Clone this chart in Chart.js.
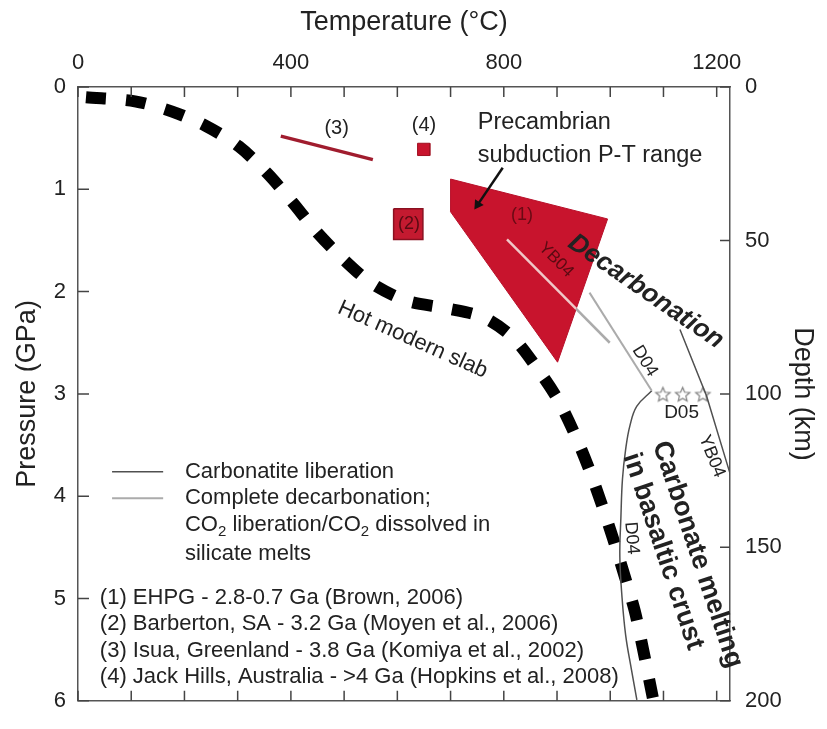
<!DOCTYPE html>
<html>
<head>
<meta charset="utf-8">
<script src="https://cdn.jsdelivr.net/npm/chart.js@4.4.1/dist/chart.umd.min.js"></script>
<style>
  html, body { margin: 0; padding: 0; background: #fff; }
  canvas { display: block; }
</style>
</head>
<body>
<canvas id="pt" width="827" height="729"></canvas>
<script>
// axis ticks
const tempLabels = [0, 400, 800, 1200];
const pressureTicks = [0, 1, 2, 3, 4, 5, 6];
const depthTicks = [0, 50, 100, 150, 200];

// hot modern slab geotherm (T degC, P GPa)
const slabT = [15, 107, 177, 240, 302, 355, 402, 449, 498, 552, 618, 689, 761, 817, 864, 901, 933, 960, 984, 1005, 1027, 1046, 1061, 1080];
const slabP = [0.10, 0.14, 0.24, 0.38, 0.58, 0.84, 1.12, 1.42, 1.68, 1.92, 2.09, 2.16, 2.25, 2.45, 2.76, 3.05, 3.39, 3.73, 4.08, 4.41, 4.78, 5.12, 5.48, 5.97];

// (1) EHPG field
const ehpgT = [700, 995, 901, 700, 700];
const ehpgP = [0.90, 1.29, 2.69, 1.22, 0.90];
// (2) Barberton
const barbT = [593, 648, 648, 593, 593];
const barbP = [1.19, 1.19, 1.49, 1.49, 1.19];
// (3) Isua
const isuaT = [381, 554];
const isuaP = [0.48, 0.71];
// (4) Jack Hills
const jackT = [638, 661, 661, 638, 638];
const jackP = [0.55, 0.55, 0.67, 0.67, 0.55];

// complete decarbonation lines (YB04 crosses the EHPG edge at the middle point)
const decYBT = [806, 936, 999];
const decYBP = [1.49, 2.17, 2.50];
const decD04T = [961, 1078];
const decD04P = [2.01, 2.97];
// carbonatite liberation
const libYBT = [1131, 1181, 1228];
const libYBP = [2.37, 3.02, 3.83];
// carbonate solidus (D04)
const solT = [1078, 1050, 1037, 1029, 1023, 1020, 1018, 1022, 1029, 1040, 1050];
const solP = [2.97, 3.12, 3.31, 3.54, 3.83, 4.21, 4.59, 4.98, 5.36, 5.70, 5.99];
// D05 experiments
const d05T = [1099, 1136, 1174];
const d05P = [3.0, 3.0, 3.0];

// arrow from label to field (1)
const arrowT = [798, 751];
const arrowP = [0.79, 1.15];

// legend keys
const keyT = [64, 160];
const keyDarkP = [3.76, 3.76];
const keyLightP = [4.02, 4.02];

const sources = [
  '(1) EHPG - 2.8-0.7 Ga (Brown, 2006)',
  '(2) Barberton, SA - 3.2 Ga (Moyen et al., 2006)',
  '(3) Isua, Greenland - 3.8 Ga (Komiya et al., 2002)',
  '(4) Jack Hills, Australia - >4 Ga (Hopkins et al., 2008)'
];

const FONT = '"Liberation Sans", Arial, Helvetica, sans-serif';
const RED = '#c8142d';
const DARK = '#505050';
const LIGHT = '#ababab';

function pts(ts, ps) {
  return ts.map((t, i) => ({ x: t, y: ps[i] }));
}

function starImage(r) {
  const c = document.createElement('canvas');
  const s = Math.ceil(r * 2 + 4);
  c.width = c.height = s;
  const g = c.getContext('2d');
  g.translate(s / 2, s / 2 + 1);
  g.beginPath();
  for (let i = 0; i < 10; i++) {
    const rr = i % 2 ? r * 0.45 : r;
    const a = -Math.PI / 2 + i * Math.PI / 5;
    g.lineTo(rr * Math.cos(a), rr * Math.sin(a));
  }
  g.closePath();
  g.fillStyle = '#fff';
  g.fill();
  g.strokeStyle = '#808080';
  g.lineWidth = 1.2;
  g.stroke();
  return c;
}

// text placed in data coordinates
const notes = [
  { text: '(3)', t: 486, p: 0.41, size: 20 },
  { text: '(4)', t: 650, p: 0.38, size: 20 },
  { text: '(2)', t: 622, p: 1.34, size: 18, color: '#5a0a12' },
  { text: '(1)', t: 834, p: 1.25, size: 18, color: '#6a0a14' },
  { text: 'Precambrian', t: 751, p: 0.35, size: 23.5, align: 'left' },
  { text: 'subduction P-T range', t: 751, p: 0.67, size: 23.5, align: 'left' },
  { text: 'YB04', t: 898, p: 1.69, size: 17, rot: 45, color: '#5a0a12' },
  { text: 'Decarbonation', t: 1067, p: 2.0, size: 26, rot: 34.5, weight: 'bold', style: 'italic' },
  { text: 'Hot modern slab', t: 629, p: 2.47, size: 22, rot: 24 },
  { text: 'D04', t: 1065, p: 2.68, size: 18, rot: 58 },
  { text: 'D05', t: 1134, p: 3.18, size: 19 },
  { text: 'YB04', t: 1191, p: 3.61, size: 18, rot: 68 },
  { text: 'D04', t: 1040, p: 4.41, size: 18, rot: 85 },
  { text: 'Carbonate melting', t: 1164, p: 4.57, size: 27, rot: 71.5, weight: 'bold' },
  { text: 'in basaltic crust', t: 1099, p: 4.54, size: 27, rot: 71.5, weight: 'bold' }
];

const keyText = [
  { parts: [['Carbonatite liberation', 0]], t: 201, p: 3.76 },
  { parts: [['Complete decarbonation;', 0]], t: 201, p: 4.02 },
  { parts: [['CO', 0], ['2', 1], [' liberation/CO', 0], ['2', 1], [' dissolved in', 0]], t: 201, p: 4.28 },
  { parts: [['silicate melts', 0]], t: 201, p: 4.56 }
];

const annotations = {
  id: 'annotations',
  afterDatasetsDraw(chart) {
    const { ctx, scales: { x, y } } = chart;
    ctx.save();
    ctx.textBaseline = 'middle';
    notes.forEach(n => {
      ctx.save();
      ctx.translate(x.getPixelForValue(n.t), y.getPixelForValue(n.p));
      ctx.rotate((n.rot || 0) * Math.PI / 180);
      ctx.font = (n.style || 'normal') + ' ' + (n.weight || 'normal') + ' ' + n.size + 'px ' + FONT;
      ctx.fillStyle = n.color || '#222';
      ctx.textAlign = n.align || 'center';
      ctx.fillText(n.text, 0, 0);
      ctx.restore();
    });

    // legend texts
    ctx.fillStyle = '#222';
    ctx.textAlign = 'left';
    keyText.forEach(k => {
      let px = x.getPixelForValue(k.t);
      const py = y.getPixelForValue(k.p);
      k.parts.forEach(([s, sub]) => {
        ctx.font = (sub ? 15 : 22) + 'px ' + FONT;
        ctx.fillText(s, px, py + (sub ? 7 : 0));
        px += ctx.measureText(s).width;
      });
    });
    ctx.font = '22px ' + FONT;
    sources.forEach((s, i) => {
      ctx.fillText(s, x.getPixelForValue(41), y.getPixelForValue(4.99 + i * 0.26));
    });
    ctx.restore();
  }
};

// ticks pointing into the plot
const inwardTicks = {
  id: 'inwardTicks',
  afterDraw(chart) {
    const { ctx, chartArea: a, scales } = chart;
    ctx.save();
    ctx.strokeStyle = '#444';
    ctx.lineWidth = 1.5;
    ctx.beginPath();
    for (let v = 0; v <= 1200; v += 100) {
      const px = scales.x.getPixelForValue(v);
      ctx.moveTo(px, a.top);
      ctx.lineTo(px, a.top + 10);
      ctx.moveTo(px, a.bottom);
      ctx.lineTo(px, a.bottom - 10);
    }
    pressureTicks.forEach(v => {
      const py = scales.y.getPixelForValue(v);
      ctx.moveTo(a.left, py);
      ctx.lineTo(a.left + 11, py);
    });
    depthTicks.forEach(v => {
      const py = scales.yd.getPixelForValue(v);
      ctx.moveTo(a.right, py);
      ctx.lineTo(a.right - 10, py);
    });
    ctx.stroke();
    ctx.restore();
  }
};

function line(data, color, width, extra) {
  return Object.assign({
    data, showLine: true, borderColor: color, borderWidth: width,
    pointRadius: 0, tension: 0, fill: false, order: 1
  }, extra || {});
}

const axisBorder = { display: true, color: '#555', width: 1.5 };
const tickFont = { family: FONT, size: 22 };
const titleFont = { family: FONT, size: 27 };

const config = {
  type: 'scatter',
  data: {
    datasets: [
      line(pts(ehpgT, ehpgP), '#b8102a', 1, { backgroundColor: RED, fill: 'shape', order: 5 }),
      line(pts(barbT, barbP), '#8a1020', 1.5, { backgroundColor: '#c41a30', fill: 'shape', order: 5 }),
      line(pts(jackT, jackP), '#a01020', 1, { backgroundColor: RED, fill: 'shape', order: 5 }),
      line(pts(isuaT, isuaP), '#a01c2e', 3.5),
      line(pts(decYBT, decYBP), LIGHT, 2.5, {
        segment: { borderColor: c => c.p0DataIndex === 0 ? '#f0c8c8' : LIGHT }
      }),
      line(pts(decD04T, decD04P), LIGHT, 2),
      line(pts(libYBT, libYBP), DARK, 1.5),
      line(pts(solT, solP), DARK, 1.5, { tension: 0.4 }),
      line(pts(slabT, slabP), '#000', 12, { tension: 0.3, borderDash: [20, 20], borderCapStyle: 'butt', order: 2 }),
      line(pts(arrowT, arrowP), '#111', 2.5, {
        pointRadius: [0, 6], pointStyle: 'triangle', rotation: 214,
        pointBackgroundColor: '#111', pointBorderColor: '#111', pointBorderWidth: 0
      }),
      line(pts(d05T, d05P), '#888', 0, { showLine: false, pointRadius: 8, pointStyle: starImage(7.5) }),
      line(pts(keyT, keyDarkP), DARK, 1.5),
      line(pts(keyT, keyLightP), LIGHT, 2)
    ]
  },
  options: {
    responsive: false,
    animation: false,
    layout: { padding: 0 },
    plugins: { legend: { display: false }, tooltip: { enabled: false } },
    scales: {
      x: {
        type: 'linear', position: 'top', min: 0, max: 1225,
        grid: { display: false, drawTicks: false }, border: axisBorder,
        ticks: {
          stepSize: 100, includeBounds: false, autoSkip: false, maxRotation: 0,
          padding: 11, color: '#222', font: tickFont,
          callback: v => tempLabels.includes(v) ? String(v) : ''
        },
        title: { display: true, text: 'Temperature (°C)', color: '#222', font: titleFont, padding: { top: 6, bottom: 0 } },
        afterFit: s => { s.height = 87; }
      },
      x2: {
        type: 'linear', position: 'bottom', min: 0, max: 1225,
        grid: { display: false, drawTicks: false }, border: axisBorder,
        ticks: { display: false },
        afterFit: s => { s.height = 14; }
      },
      y: {
        type: 'linear', position: 'left', reverse: true, min: 0, max: 6,
        grid: { display: false, drawTicks: false }, border: axisBorder,
        ticks: { stepSize: 1, padding: 12, color: '#222', font: tickFont,
          callback: v => pressureTicks.includes(v) ? String(v) : '' },
        title: { display: true, text: 'Pressure (GPa)', color: '#222', font: titleFont, padding: { top: 11, bottom: 0 } },
        afterFit: s => { s.width = 78; }
      },
      yd: {
        type: 'linear', position: 'right', reverse: true, min: 0, max: 200,
        grid: { display: false, drawTicks: false }, border: axisBorder,
        ticks: { stepSize: 50, padding: 15, color: '#222', font: tickFont,
          callback: v => depthTicks.includes(v) ? String(v) : '' },
        title: { display: true, text: 'Depth (km)', color: '#222', font: titleFont, padding: { top: 8, bottom: 0 } },
        afterFit: s => { s.width = 97; }
      }
    }
  },
  plugins: [annotations, inwardTicks]
};

const ptChart = new Chart(document.getElementById('pt'), config);
</script>
</body>
</html>
